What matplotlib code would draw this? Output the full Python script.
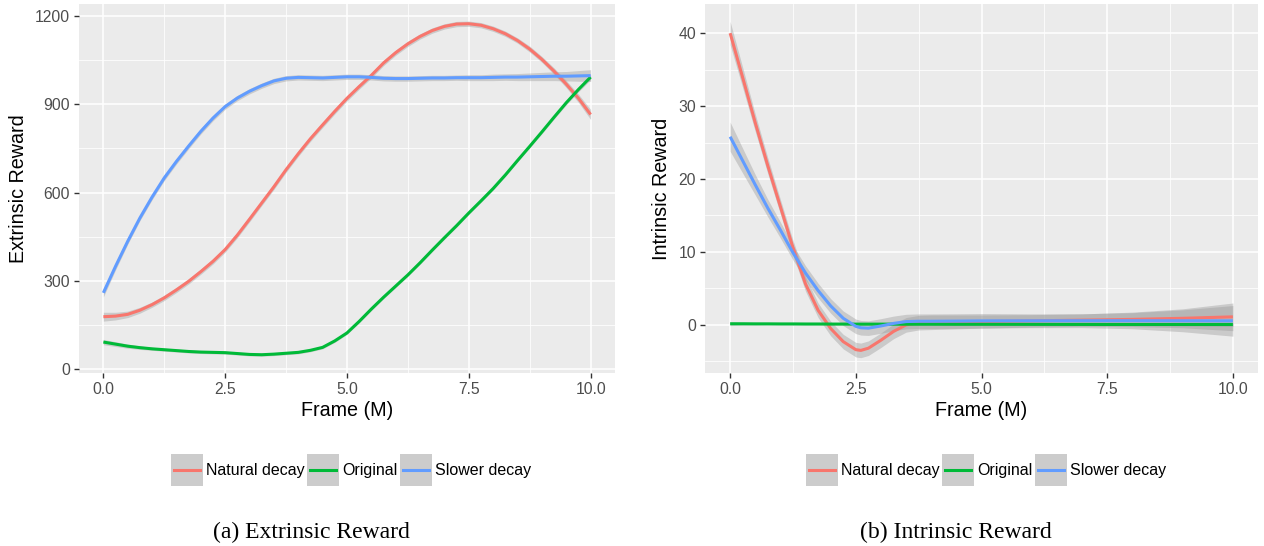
import numpy as np
import matplotlib
matplotlib.use("Agg")
import matplotlib.pyplot as plt
from matplotlib.lines import Line2D
from matplotlib.patches import Rectangle
from matplotlib.ticker import MultipleLocator

plt.rcParams['font.family'] = ['Liberation Sans', 'DejaVu Sans']

# ---- data ----
series = ["Natural decay", "Original", "Slower decay"]
colors = ["#F8766D", "#00BA38", "#619CFF"]

# (a) extrinsic reward, x in steps of 0.25
x_ext = [i * 0.25 for i in range(41)]
ext_natural = [179, 181, 187, 201, 220, 243, 270, 299, 332, 367, 407, 456, 510, 565, 620, 678,
               732, 783, 830, 876, 920, 960, 998, 1040, 1075, 1105, 1130, 1150, 1164, 1172,
               1173, 1168, 1156, 1139, 1116, 1087, 1052, 1012, 968, 920, 865]
ext_original = [93, 86, 79, 74, 70, 67, 64, 61, 59, 58, 57, 54, 51, 50, 52, 55, 58, 65, 75, 97,
                124, 163, 205, 245, 283, 321, 362, 405, 447, 488, 531, 572, 614, 660, 709, 757,
                806, 856, 905, 950, 992]
ext_slower = [260, 350, 435, 514, 585, 650, 706, 758, 808, 853, 892, 921, 944, 963, 979, 988,
              991, 990, 989, 991, 993, 993, 991, 988, 987, 987, 988, 989, 989, 990, 990, 990,
              991, 992, 992, 993, 994, 995, 995, 996, 997]
ext_se_natural = [15, 13, 11, 10, 9, 9, 9, 9, 9, 9, 9, 9, 9, 9, 9, 9, 9, 9, 9, 9, 9, 9, 9, 9, 9,
                  9, 9, 9, 9, 9, 9, 9, 9, 9, 9, 10, 10, 11, 12, 14, 17]
ext_se_original = [9, 8, 7, 6, 5, 5, 5, 5, 5, 5, 5, 5, 5, 5, 5, 5, 5, 5, 5, 5, 5, 5, 5, 5, 5,
                   5, 5, 5, 5, 5, 5, 5, 5, 5, 5, 5, 6, 6, 7, 8, 9]
ext_se_slower = [14, 12, 10, 9, 9, 9, 9, 9, 9, 9, 9, 9, 9, 9, 9, 9, 9, 9, 9, 9, 9, 9, 9, 9, 9,
                 9, 9, 9, 9, 9, 10, 10, 11, 11, 12, 13, 14, 15, 16, 18, 20]

# (b) intrinsic reward
x_int = [0, 0.25, 0.5, 0.75, 1, 1.25, 1.5, 1.75, 2, 2.25, 2.5, 2.6, 2.75, 3, 3.25, 3.5, 3.75,
         4, 4.5, 5, 6, 7, 8, 9, 10]
int_natural = [40.0, 33.9, 27.7, 21.8, 16.2, 10.6, 5.6, 2.0, -0.5, -2.3, -3.4, -3.5, -3.2, -2.1,
               -0.9, 0.0, 0.3, 0.35, 0.4, 0.45, 0.55, 0.65, 0.75, 0.9, 1.1]
int_original = [0.15, 0.15, 0.14, 0.14, 0.13, 0.13, 0.12, 0.12, 0.11, 0.11, 0.1, 0.1, 0.1, 0.1,
                0.1, 0.09, 0.09, 0.09, 0.08, 0.08, 0.07, 0.06, 0.05, 0.05, 0.05]
int_slower = [25.8, 22.5, 19.2, 16.0, 13.0, 9.9, 7.1, 4.7, 2.6, 0.9, -0.2, -0.4, -0.45, -0.15,
              0.2, 0.45, 0.5, 0.5, 0.52, 0.55, 0.56, 0.57, 0.57, 0.56, 0.55]
int_se_natural = [1.6, 1.4, 1.2, 1.1, 1.0, 1.0, 1.0, 1.0, 1.0, 1.0, 1.0, 1.0, 1.0, 1.0,
                  1.0, 1.0, 1.0, 1.0, 0.95, 0.9, 0.85, 0.85, 1.0, 1.3, 1.9]
int_se_original = [0.25, 0.2, 0.18, 0.15, 0.15, 0.15, 0.15, 0.15, 0.15, 0.15, 0.15, 0.15,
                   0.15, 0.15, 0.15, 0.15, 0.15, 0.15, 0.15, 0.15, 0.15, 0.15, 0.15, 0.2, 0.25]
int_se_slower = [2.0, 1.7, 1.4, 1.2, 1.1, 1.0, 1.0, 1.0, 1.0, 1.0, 1.0, 1.0, 1.0, 1.0,
                 1.0, 1.0, 1.0, 1.0, 1.0, 1.0, 0.95, 0.95, 1.1, 1.5, 2.1]

W, H = 1264, 546
fig = plt.figure(figsize=(W / 100, H / 100), dpi=100)


def ggplot_axes(rect):
    ax = fig.add_axes(rect)
    ax.set_facecolor("#EBEBEB")
    for s in ax.spines.values():
        s.set_visible(False)
    ax.grid(True, which="major", color="white", lw=1.1)
    ax.grid(True, which="minor", color="white", lw=0.55)
    ax.set_axisbelow(True)
    ax.tick_params(which="major", length=3.5, width=1.0, color="#333333",
                   labelsize=11.3, labelcolor="#4D4D4D", pad=3)
    ax.tick_params(which="minor", length=0)
    return ax


def draw(ax, x, ys, ses):
    for y, se, c in zip(ys, ses, colors):
        y = np.array(y, dtype=float)
        se = np.array(se, dtype=float)
        ax.fill_between(x, y - se, y + se, color="#999999", alpha=0.4, lw=0)
        ax.plot(x, y, color=c, lw=2.2, solid_capstyle="butt", solid_joinstyle="round")


class KeyHandler:
    # ggplot style legend key: grey square with a short coloured line
    def legend_artist(self, legend, orig_handle, fontsize, handlebox):
        x0, y0 = -handlebox.xdescent, -handlebox.ydescent
        w, h = handlebox.width, handlebox.height
        tr = handlebox.get_transform()
        rect = Rectangle((x0, y0), w, h, facecolor="#CCCCCC", edgecolor="none", transform=tr)
        line = Line2D([x0 + 0.1 * w, x0 + 0.9 * w], [y0 + h / 2, y0 + h / 2],
                      color=orig_handle.get_color(), lw=2.2, transform=tr)
        handlebox.add_artist(rect)
        handlebox.add_artist(line)
        return rect


def add_legend(xc, yc):
    handles = [Line2D([], [], color=c) for c in colors]
    fig.legend(handles, series, loc="center", bbox_to_anchor=(xc / W, 1 - yc / H),
               ncol=3, frameon=False, fontsize=11.5, handlelength=2.0, handleheight=2.7,
               handletextpad=0.2, columnspacing=0.15, borderpad=0,
               handler_map={Line2D: KeyHandler()})


bottom = 373
top = 4

# panel (a)
ax1 = ggplot_axes([79 / W, 1 - bottom / H, (615 - 79) / W, (bottom - top) / H])
draw(ax1, x_ext, [ext_natural, ext_original, ext_slower],
     [ext_se_natural, ext_se_original, ext_se_slower])
ax1.set_xlim(-0.5, 10.5)
ax1.set_ylim(-12, 1240)
ax1.xaxis.set_major_locator(MultipleLocator(2.5))
ax1.xaxis.set_minor_locator(MultipleLocator(1.25))
ax1.yaxis.set_major_locator(MultipleLocator(300))
ax1.yaxis.set_minor_locator(MultipleLocator(150))
ax1.xaxis.set_major_formatter(lambda v, p: f"{v:.1f}")
ax1.set_xlabel("Frame (M)", fontsize=14.2, labelpad=3)
ax1.set_ylabel("Extrinsic Reward", fontsize=14.2, labelpad=5)

# panel (b)
ax2 = ggplot_axes([705 / W, 1 - bottom / H, (1258 - 705) / W, (bottom - top) / H])
draw(ax2, x_int, [int_natural, int_original, int_slower],
     [int_se_natural, int_se_original, int_se_slower])
ax2.set_xlim(-0.5, 10.5)
ax2.set_ylim(-6.6, 44)
ax2.xaxis.set_major_locator(MultipleLocator(2.5))
ax2.xaxis.set_minor_locator(MultipleLocator(1.25))
ax2.yaxis.set_major_locator(MultipleLocator(10))
ax2.yaxis.set_minor_locator(MultipleLocator(5))
ax2.xaxis.set_major_formatter(lambda v, p: f"{v:.1f}")
ax2.set_xlabel("Frame (M)", fontsize=14.2, labelpad=3)
ax2.set_ylabel("Intrinsic Reward", fontsize=14.2, labelpad=5)

add_legend(351, 470)
add_legend(986, 470)

fig.text(311 / W, 1 - 532 / H, "(a) Extrinsic Reward", ha="center", va="center",
         fontsize=17, family="Liberation Serif")
fig.text(956 / W, 1 - 532 / H, "(b) Intrinsic Reward", ha="center", va="center",
         fontsize=17, family="Liberation Serif")

fig.savefig("out.png", dpi=100)
